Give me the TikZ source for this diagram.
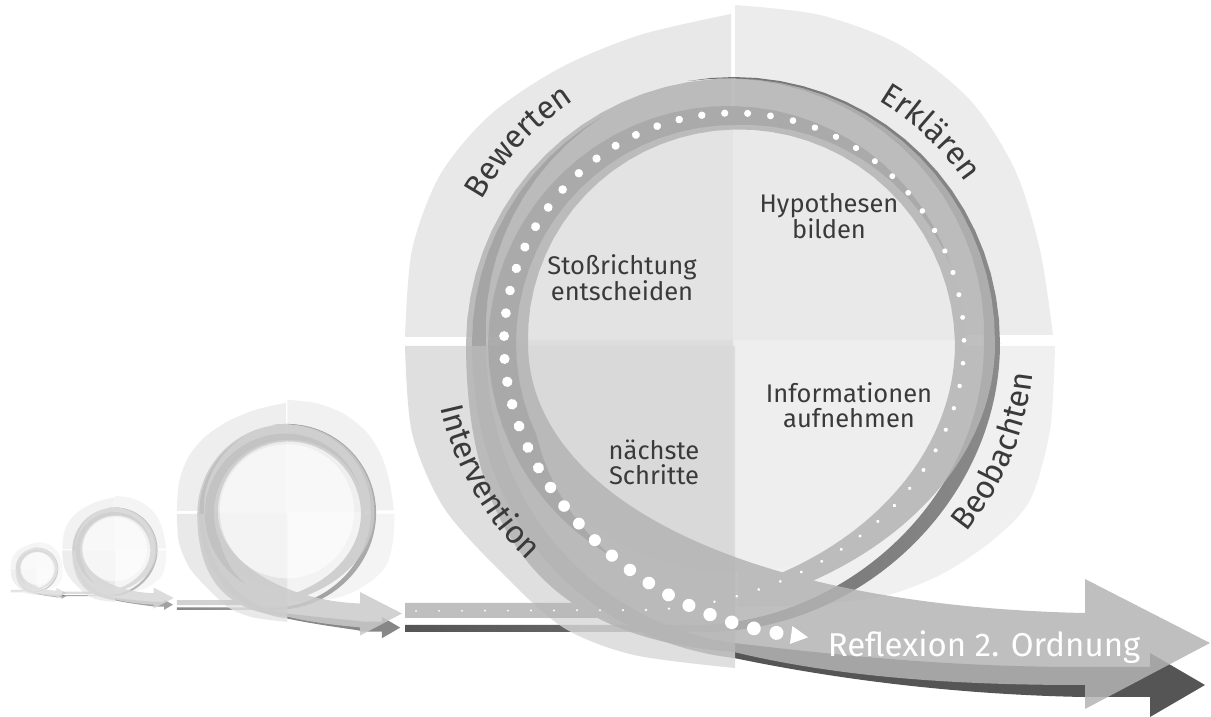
\documentclass[tikz,border=0pt]{standalone}
\usepackage{fontspec}
\setmainfont{Fira Sans}
\usetikzlibrary{decorations.markings,decorations.text}

\definecolor{sectorTL}{HTML}{E8E8E8}
\definecolor{sectorTR}{HTML}{ECECEC}
\definecolor{sectorBR}{HTML}{F0F0F0}
\definecolor{sectorBL}{HTML}{D8D8D8}
\definecolor{innerTL}{HTML}{E3E3E3}
\definecolor{innerTR}{HTML}{E9E9E9}
\definecolor{innerBR}{HTML}{EEEEEE}
\definecolor{innerBL}{HTML}{DDDDDD}
\definecolor{bandlight}{HTML}{B4B4B4}
\definecolor{banddots}{HTML}{9A9A9A}
\definecolor{bandmid}{HTML}{8A8A8A}
\definecolor{banddark}{HTML}{555555}
\definecolor{labeltext}{HTML}{3A3A3A}

\newcommand\phasefont{\fontsize{32}{34}\selectfont}
\newcommand\stepfont{\fontsize{25.5}{25}\selectfont}

\tikzstyle{lightband}=[fill=bandlight, fill opacity=0.85]
\tikzstyle{dotband}=[fill=banddots, fill opacity=0.5]
\tikzstyle{darkband}=[fill=banddark]
\tikzstyle{overlayBL}=[fill=sectorBL, fill opacity=0.8]
\tikzstyle{activity}=[font=\stepfont, text=labeltext, align=center]
\tikzstyle{reflexion}=[font=\fontsize{33}{34}\selectfont, text=white]
\tikzstyle{phasearc}=[decorate, decoration={text along path, text align=center}]

% one loop of the cycle, centred on (0,0); #1 = x where the arrow heads start
\newcommand\loopbody[1]{%
  % phase sectors
  \fill[sectorTL] (-3,6) -- plot[smooth] coordinates {(-329,6) (-322,93) (-294,168) (-244,228) (-174,275) (-94,308) (-3,329)} -- cycle;
  \fill[sectorTR] (1,8) -- plot[smooth] coordinates {(1,338) (86,328) (166,298) (236,243) (281,173) (306,93) (319,8)} -- cycle;
  \fill[sectorBR] (4,-3) -- plot[smooth] coordinates {(321,-3) (316,-87) (296,-157) (259,-197) (206,-232) (146,-254) (66,-262) (4,-264)} -- cycle;
  \fill[innerTL] (-1,3) -- (-233,3) arc[start angle=180, end angle=90, radius=232] -- cycle;
  \fill[innerTR] (-1,3) -- (-1,235) arc[start angle=90, end angle=0, radius=232] -- cycle;
  \fill[innerBR] (-1,3) -- (231,3) arc[start angle=0, end angle=-90, radius=232] -- cycle;
  \fill[innerBL] (-1,3) -- (-1,-229) arc[start angle=-90, end angle=-180, radius=232] -- cycle;
  % dark arrow, way in
  \shade[left color=banddark, right color=bandmid] (-329,-282) -- (-30,-282) .. controls (120,-275) and (250,-150) .. (250,0)
    -- plot[domain=0:100, samples=21] ({(250+16*\x/100)*cos(\x)}, {(250+16*\x/100)*sin(\x)})
    -- plot[domain=100:0, samples=21] ({266*cos(\x)}, {266*sin(\x)})
    .. controls (266,-155) and (130,-289) .. (-30,-289) -- (-329,-289) -- cycle;
  % dark arrow, way out
  \fill[darkband] plot[domain=120:180, samples=13] ({(262-14*(\x-120)/60)*cos(\x)}, {(262-14*(\x-120)/60)*sin(\x)})
    .. controls (-248,-180) and (-120,-285) .. (0,-300) .. controls (150,-318) and (250,-324) .. (#1-2,-324)
    -- (#1+65,-324) -- (#1+65,-310) -- (#1+120,-342) -- (#1+65,-374) -- (#1+65,-354) -- (#1-2,-354)
    .. controls (250,-352) and (130,-342) .. (0,-315) .. controls (-130,-300) and (-262,-200) .. (-262,0)
    -- plot[domain=180:120, samples=13] ({262*cos(\x)}, {262*sin(\x)}) -- cycle;
  \fill[overlayBL] (1,-3) -- plot[smooth] coordinates {(-329,-3) (-322,-90) (-290,-165) (-230,-232) (-170,-285) (-100,-312) (1,-325)} -- cycle;
  % light arrow
  \fill[lightband] (-329,-260) -- (-84,-260) .. controls (80,-252) and (221,-140) .. (221,0)
    -- plot[domain=0:180, samples=37] ({(221-15*\x/180)*cos(\x)}, {(221-15*\x/180)*sin(\x)})
    .. controls (-206,-150) and (0,-262) .. (#1-2,-270) -- (#1,-270) -- (#1,-236) -- (#1+125,-300)
    -- (#1,-366) -- (#1,-342) -- (#1-2,-342) .. controls (250,-342) and (120,-338) .. (0,-309)
    .. controls (-150,-298) and (-268,-230) .. (-268,0)
    -- plot[domain=180:0, samples=37] ({(261+7*\x/180)*cos(\x)}, {(261+7*\x/180)*sin(\x)})
    .. controls (261,-150) and (100,-268) .. (-84,-275) -- (-329,-275) -- cycle;
  \fill[dotband] plot[domain=20:240, samples=45] ({(230-12*min(1,(\x-20)/70)+28*max(0,(\x-205)/35))*cos(\x)}, {(230-12*min(1,(\x-20)/70)+28*max(0,(\x-205)/35))*sin(\x)})
    -- plot[domain=240:20, samples=45] ({(230+16*min(1,(\x-20)/160))*cos(\x)}, {(230+16*min(1,(\x-20)/160))*sin(\x)}) -- cycle;
}

\begin{document}
\begin{tikzpicture}[x=1pt,y=1pt]
\useasboundingbox (0,0) rectangle (1211,717);
\fill[white] (0,0) rectangle (1211,717);

% earlier loops
\begin{scope}[shift={(37,148)}, scale=0.08, opacity=0.45, transparency group]
\loopbody{242}
\fill[white, opacity=0.6] (0,5) circle[radius=200];
\end{scope}
\begin{scope}[shift={(115,167)}, scale=0.16, opacity=0.55, transparency group]
\loopbody{242}
\fill[white, opacity=0.6] (0,5) circle[radius=200];
\end{scope}
\begin{scope}[shift={(287,204)}, scale=0.335, opacity=0.7, transparency group]
\loopbody{218}
\fill[white, opacity=0.6] (0,5) circle[radius=200];
\end{scope}

% main loop
\begin{scope}[shift={(734,374)}]
\loopbody{351}
\path[decorate, decoration={markings,
    mark=between positions 0 and 1 step 23pt with {\pgfmathsetmacro\dotr{1+6*((\pgfkeysvalueof{/pgf/decoration/mark info/distance from start}+5)/\pgfdecoratedpathlength)^1.5}\fill[white] (0,0) circle[radius=\dotr pt];},
    mark=at position 0.999 with {\fill[white] (9pt,-9pt) -- (26pt,0pt) -- (9pt,9pt) -- cycle;}}]
  (-318,-268) -- (-84,-267) .. controls (86,-259) and (230,-144) .. (230,0)
  arc[start angle=0, end angle=180, radius=230] .. controls (-230,-144) and (-94,-272) .. (50,-291);

\path[phasearc, decoration={text={|\phasefont\color{labeltext}|Bewerten}}] (172:290) arc[start angle=172, end angle=102, radius=290];
\path[phasearc, decoration={text={|\phasefont\color{labeltext}|Erklären}}] (82:282) arc[start angle=82, end angle=12, radius=282];
\path[phasearc, decoration={text={|\phasefont\color{labeltext}|Intervention}}] (174.5:300) arc[start angle=174.5, end angle=244.5, radius=300];
\path[phasearc, decoration={text={|\phasefont\color{labeltext}|Beobachten}}] (-57.5:300) arc[start angle=-57.5, end angle=12.5, radius=300];

\node (hypo) [activity] at (95,127) {Hypothesen\\bilden};
\node (stoss) [activity] at (-112,65) {Stoßrichtung\\entscheiden};
\node (info) [activity] at (115,-62) {Informationen\\aufnehmen};
\node (next) [activity] at (-80,-119) {nächste\\Schritte};
\node (refl) [reflexion, anchor=base] at (250,-314) {Reflexion 2. Ordnung};
\end{scope}
\end{tikzpicture}
\end{document}
